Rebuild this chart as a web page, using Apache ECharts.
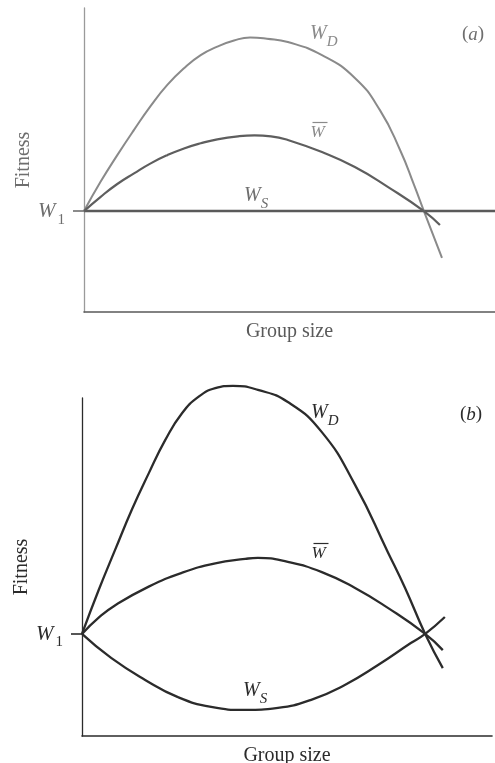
<!DOCTYPE html>
<html>
<head>
<meta charset="utf-8">
<script src="https://cdn.jsdelivr.net/npm/echarts@6/dist/echarts.min.js"></script>
<style>
  html, body { margin: 0; padding: 0; background: #fff; }
  #chart { width: 495px; height: 763px; }
</style>
</head>
<body>
<div id="chart"></div>
<script>
// Panel (a): group size (0–100) vs fitness (0–100); W_S stays flat at W1
const W1_A = 33.2;
const gsA_D   = [0, 4.06, 8.10, 12.17, 16.23, 20.27, 24.33, 28.39, 32.43, 36.5, 40.4, 44.5, 49.6, 57.9, 65.9, 72.0, 76.9, 80.3, 82.7, 87.1];
const wD_A    = [33.2, 42.9, 51.6, 59.9, 67.8, 74.7, 80.2, 84.5, 87.3, 89.3, 90.3, 89.9, 88.8, 84.5, 77.0, 66.4, 53.3, 41.8, 33.2, 17.8];
const gsA_Bar = [0, 4.06, 8.10, 12.17, 16.23, 20.27, 24.33, 28.39, 32.43, 37.5, 41.5, 45.5, 49.6, 57.9, 65.9, 74.0, 82.7, 86.6];
const wBar_A  = [33.2, 37.9, 42.1, 45.6, 48.9, 51.6, 53.8, 55.5, 56.8, 57.8, 58.1, 57.8, 56.6, 52.6, 47.7, 41.1, 33.2, 28.6];
const gsA_S   = [0, 100];
const wS_A    = [33.2, 33.2];

// Panel (b): W_S dips below W1 and rises past it after the crossing
const W1_B = 30.2;
const gsB_D   = [0, 4.07, 8.12, 12.2, 16.27, 20.32, 24.39, 28.46, 32.51, 36.8, 42.9, 50.2, 58.5, 66.6, 74.6, 78.8, 83.7, 88.0];
const wD_B    = [30.2, 43.2, 55.2, 67.1, 77.7, 87.6, 95.5, 100.4, 102.9, 103.6, 102.4, 98.8, 89.9, 74.3, 54.4, 43.8, 30.2, 20.1];
const gsB_Bar = [0, 4.07, 8.12, 16.27, 24.39, 32.51, 39.8, 42.9, 50.2, 58.5, 66.6, 74.6, 83.7, 88.0];
const wBar_B  = [30.2, 35.0, 38.7, 44.2, 48.3, 51.1, 52.4, 52.7, 51.5, 48.5, 43.8, 37.9, 30.2, 25.4];
const gsB_S   = [0, 7.1, 15.4, 23.4, 31.5, 39.8, 47.8, 55.9, 64.1, 72.2, 80.2, 83.7, 88.5];
const wS_B    = [30.2, 23.1, 16.6, 11.5, 8.6, 7.7, 8.3, 10.7, 15.1, 21.0, 27.5, 30.2, 35.2];

const SERIF = '"Liberation Serif", "DejaVu Serif", serif';

function pairs(xs, ys) { return xs.map((x, i) => [x, ys[i]]); }

function xAxisFor(gridIndex, color) {
  return {
    type: 'value', gridIndex, min: 0, max: 100,
    axisLine: { show: true, lineStyle: { color, width: 1.6 } },
    axisTick: { show: false }, axisLabel: { show: false }, splitLine: { show: false },
    name: 'Group size', nameLocation: 'middle', nameGap: 10, nameMoveOverlap: false,
    nameTextStyle: { fontFamily: SERIF, fontSize: 20, color, verticalAlign: 'top' }
  };
}

function yAxisFor(gridIndex, w1, lineColor, textColor) {
  return {
    type: 'value', gridIndex, min: 0, max: 100,
    axisLine: { show: true, lineStyle: { color: lineColor, width: 1.3 } },
    axisTick: { show: true, customValues: [w1], length: 11, lineStyle: { color: textColor, width: 1.6 } },
    axisLabel: {
      show: true, customValues: [w1], margin: 19,
      formatter: () => '{w|W}{s|1}',
      rich: {
        w: { fontFamily: SERIF, fontStyle: 'italic', fontSize: 21, color: textColor, verticalAlign: 'bottom', lineHeight: 22 },
        s: { fontFamily: SERIF, fontSize: 15, color: textColor, verticalAlign: 'bottom', lineHeight: 14, padding: [0, 0, -5, 2] }
      }
    },
    splitLine: { show: false },
    name: 'Fitness', nameLocation: 'middle', nameGap: 50, nameRotate: 90, nameMoveOverlap: false,
    nameTextStyle: { fontFamily: SERIF, fontSize: 20, color: textColor }
  };
}

function curve(xi, data, color, width) {
  return {
    type: 'line', xAxisIndex: xi, yAxisIndex: xi, data, smooth: 0.5,
    showSymbol: false, clip: false, silent: true,
    lineStyle: { color, width }
  };
}

// Curve labels: italic W with an italic subscript
function subLabel(x, y, sub, color, size) {
  return {
    type: 'text', left: x, top: y, silent: true,
    style: {
      text: '{w|W}{s|' + sub + '}',
      rich: {
        w: { fontFamily: SERIF, fontStyle: 'italic', fontSize: size, fill: color, verticalAlign: 'bottom', lineHeight: size + 2 },
        s: { fontFamily: SERIF, fontStyle: 'italic', fontSize: 15, fill: color, verticalAlign: 'bottom', lineHeight: 14, padding: [0, 0, -6, 0] }
      }
    }
  };
}

function barLabel(x, y, color, size) {
  return {
    type: 'group', left: x, top: y, silent: true,
    children: [
      { type: 'line', shape: { x1: 2, y1: 0, x2: 17, y2: 0 }, style: { stroke: color, lineWidth: 1.2 } },
      { type: 'text', x: 0, y: 2, style: { text: 'W', fontFamily: SERIF, fontStyle: 'italic', fontSize: size, fill: color } }
    ]
  };
}

function panelTag(x, y, letter, color) {
  return {
    type: 'text', left: x, top: y, silent: true,
    style: {
      text: '{p|(}{l|' + letter + '}{p|)}',
      rich: {
        p: { fontFamily: SERIF, fontSize: 19, fill: color },
        l: { fontFamily: SERIF, fontStyle: 'italic', fontSize: 19, fill: color }
      }
    }
  };
}

const colA = '#6e6e6e', colAlight = '#8a8a8a', colB = '#2b2b2b';

const chart = echarts.init(document.getElementById('chart'), null, { renderer: 'canvas' });
chart.setOption({
  backgroundColor: '#ffffff',
  animation: false,
  grid: [
    { left: 84, right: 0, top: 8, height: 304, outerBoundsMode: 'none' },
    { left: 82, right: 3, top: 398, height: 338, outerBoundsMode: 'none' }
  ],
  xAxis: [xAxisFor(0, '#5a5a5a'), xAxisFor(1, colB)],
  yAxis: [yAxisFor(0, W1_A, '#9a9a9a', colA), yAxisFor(1, W1_B, colB, colB)],
  series: [
    curve(0, pairs(gsA_S, wS_A), '#5a5a5a', 2.4),
    curve(0, pairs(gsA_D, wD_A), colAlight, 2),
    curve(0, pairs(gsA_Bar, wBar_A), '#5e5e5e', 2.2),
    curve(1, pairs(gsB_D, wD_B), colB, 2.3),
    curve(1, pairs(gsB_Bar, wBar_B), colB, 2.3),
    curve(1, pairs(gsB_S, wS_B), colB, 2.3)
  ],
  graphic: [
    subLabel(310, 24, 'D', colAlight, 20),
    barLabel(310, 120, colAlight, 17),
    subLabel(244, 186, 'S', colA, 20),
    panelTag(462, 25, 'a', colA),
    subLabel(311, 403, 'D', colB, 20),
    barLabel(311, 541, colB, 17),
    subLabel(243, 681, 'S', colB, 20),
    panelTag(460, 405, 'b', colB)
  ]
});
</script>
</body>
</html>
